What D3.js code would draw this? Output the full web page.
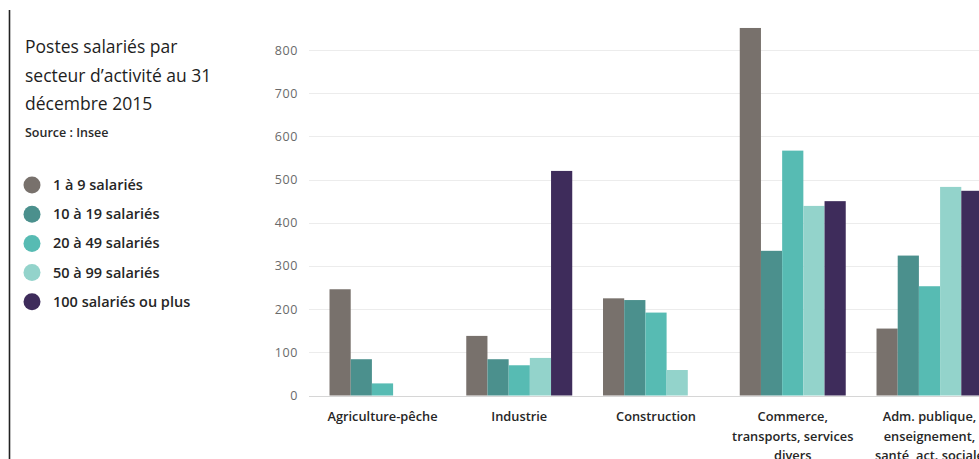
<!DOCTYPE html>
<html lang="fr">
<head>
<meta charset="utf-8">
<script src="https://cdn.jsdelivr.net/npm/d3@7"></script>
<style>
  html, body { margin: 0; padding: 0; background: #fff; }
  svg { display: block; }
</style>
</head>
<body>
<svg id="chart" width="979" height="459"></svg>
<script>
// Secteurs d'activité (lignes du libellé sous l'axe)
const categories = [
  ["Agriculture-pêche"],
  ["Industrie"],
  ["Construction"],
  ["Commerce,", "transports, services", "divers"],
  ["Adm. publique,", "enseignement,", "santé, act. sociale"]
];

// Tranches de taille d'établissement
const seriesNames = ["1 à 9 salariés", "10 à 19 salariés", "20 à 49 salariés", "50 à 99 salariés", "100 salariés ou plus"];
const seriesColors = ["#78716c", "#4b908d", "#57bbb3", "#93d3cb", "#3e2c5b"];

// Postes salariés par secteur, une liste par tranche
const s1to9    = [246, 138, 225, 851, 155];
const s10to19  = [84, 84, 221, 335, 324];
const s20to49  = [28, 70, 192, 567, 253];
const s50to99  = [null, 87, 59, 439, 483];
const s100plus = [null, 520, null, 450, 474];

const yTicks = [0, 100, 200, 300, 400, 500, 600, 700, 800];

const seriesValues = [s1to9, s10to19, s20to49, s50to99, s100plus];

const svg = d3.select("#chart");

// Trait vertical à gauche
svg.append("line")
  .attr("x1", 9.5).attr("x2", 9.5)
  .attr("y1", 10).attr("y2", 459)
  .attr("stroke", "#222").attr("stroke-width", 1.6);

// Titre
const title = svg.append("text")
  .attr("x", 25).attr("y", 53)
  .attr("font-family", "'Open Sans', sans-serif")
  .attr("font-size", 17.5)
  .attr("fill", "#1e1e1e");
["Postes salariés par", "secteur d’activité au 31", "décembre 2015"].forEach((t, i) => {
  title.append("tspan").attr("x", 25).attr("dy", i === 0 ? 0 : 28.5).text(t);
});
svg.append("text")
  .attr("x", 25).attr("y", 137)
  .attr("font-family", "'Open Sans', sans-serif")
  .attr("font-size", 12.5)
  .attr("font-weight", 600)
  .attr("fill", "#2a2a2a")
  .text("Source : Insee");

// Légende
const legend = svg.append("g");
seriesNames.forEach((name, i) => {
  const cy = 185 + i * 29.2;
  legend.append("circle")
    .attr("cx", 32).attr("cy", cy).attr("r", 8.5)
    .attr("fill", seriesColors[i]);
  legend.append("text")
    .attr("x", 53).attr("y", cy + 5)
    .attr("font-family", "'Open Sans', sans-serif")
    .attr("font-size", 14.5)
    .attr("font-weight", 600)
    .attr("fill", "#262626")
    .text(name);
});

// Échelles
const x0 = d3.scaleBand()
  .domain(d3.range(categories.length))
  .range([309, 1003])
  .paddingInner(0.225)
  .paddingOuter(0.15);

const x1 = d3.scaleBand()
  .domain(d3.range(seriesNames.length))
  .range([0, x0.bandwidth()]);

const y = d3.scaleLinear()
  .domain([0, 800])
  .range([395.5, 50]);

// Quadrillage horizontal
svg.append("g")
  .selectAll("line")
  .data(yTicks)
  .join("line")
  .attr("x1", 309).attr("x2", 979)
  .attr("y1", d => Math.round(y(d)) + 0.5)
  .attr("y2", d => Math.round(y(d)) + 0.5)
  .attr("stroke", d => d === 0 ? "#d6d6d6" : "#ececec")
  .attr("stroke-width", 1);

// Axe des ordonnées
const yAxis = d3.axisLeft(y).tickValues(yTicks).tickSize(0).tickPadding(0);
const gy = svg.append("g")
  .attr("transform", "translate(298,0)")
  .call(yAxis);
gy.select(".domain").remove();
gy.selectAll("text")
  .attr("font-family", "'Open Sans', sans-serif")
  .attr("font-size", 12.5)
  .attr("letter-spacing", 0.6)
  .attr("fill", "#6a6a6a");

// Barres
const groups = svg.append("g")
  .selectAll("g")
  .data(categories.map((c, i) => i))
  .join("g")
  .attr("transform", i => `translate(${x0(i)},0)`);

groups.selectAll("rect")
  .data(i => seriesValues.map((vals, s) => ({ s, v: vals[i] })).filter(d => d.v != null))
  .join("rect")
  .attr("x", d => x1(d.s))
  .attr("width", x1.bandwidth())
  .attr("y", d => y(d.v))
  .attr("height", d => y(0) - y(d.v))
  .attr("fill", d => seriesColors[d.s]);

// Libellés des secteurs
const labels = svg.append("g")
  .selectAll("text")
  .data(categories.map((lines, i) => ({ lines, i })))
  .join("text")
  .attr("x", d => x0(d.i) + x0.bandwidth() / 2)
  .attr("y", 421)
  .attr("text-anchor", "middle")
  .attr("font-family", "'Open Sans', sans-serif")
  .attr("font-size", 12.8)
  .attr("font-weight", 600)
  .attr("fill", "#262626");
labels.each(function(d) {
  const t = d3.select(this);
  d.lines.forEach((line, k) => {
    t.append("tspan")
      .attr("x", x0(d.i) + x0.bandwidth() / 2)
      .attr("dy", k === 0 ? 0 : 19.5)
      .text(line);
  });
});
</script>
</body>
</html>
